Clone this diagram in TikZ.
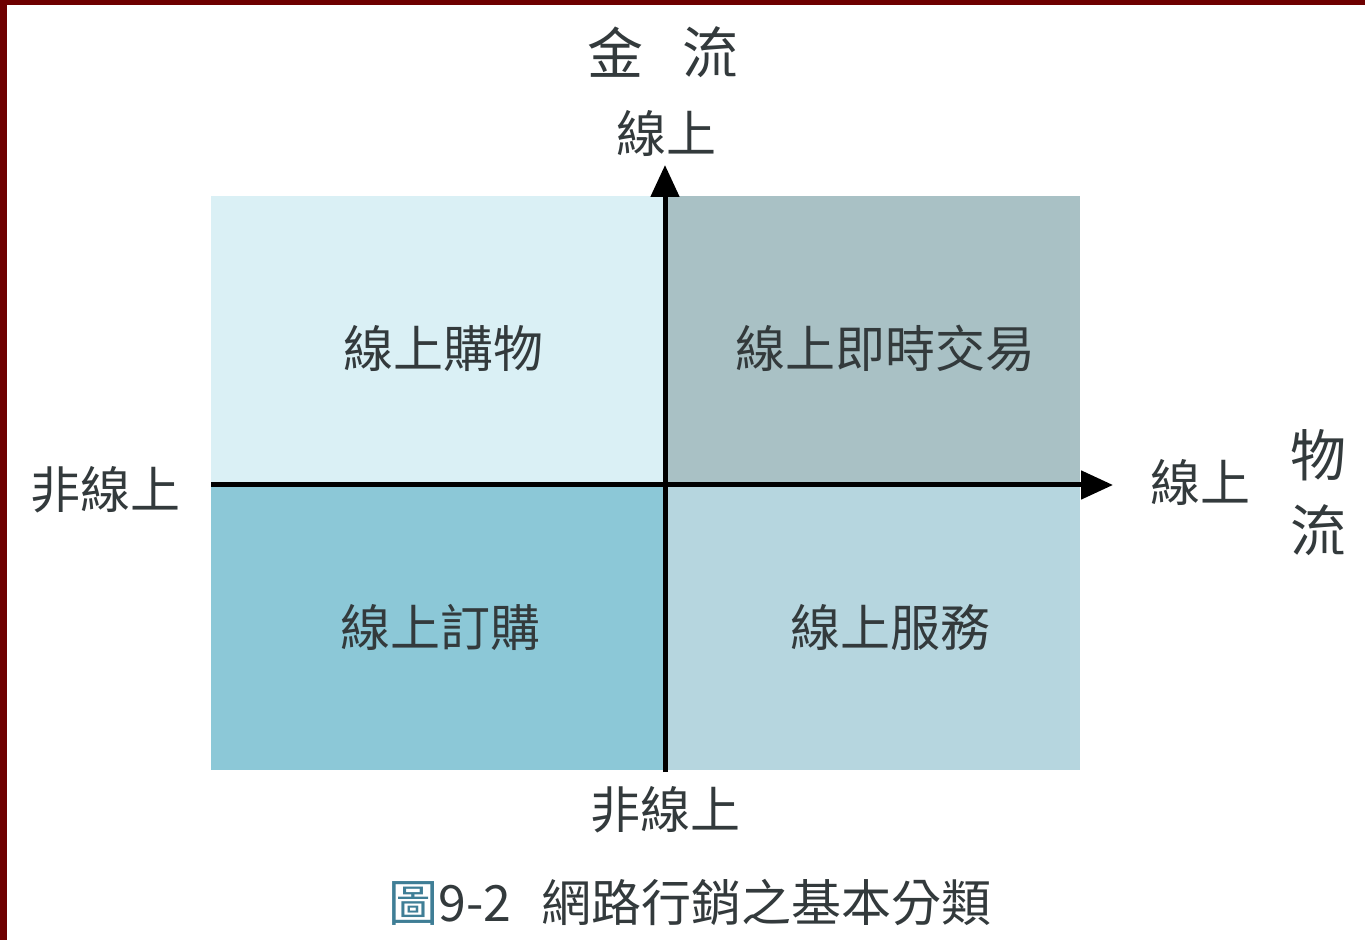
\documentclass[tikz,border=0pt]{standalone}
\usepackage{fontspec}
\setmainfont{Noto Sans CJK TC}
\usetikzlibrary{arrows.meta}
\definecolor{frame}{HTML}{6E0000}
\definecolor{qtl}{HTML}{DAF0F5}
\definecolor{qtr}{HTML}{A9C1C5}
\definecolor{qbl}{HTML}{8CC8D7}
\definecolor{qbr}{HTML}{B6D6DF}
\definecolor{txt}{HTML}{333A3C}
\begin{document}
\begin{tikzpicture}[x=0.5pt,y=-0.5pt,
  lbl/.style={font=\fontsize{25}{28}\selectfont, text=txt, inner sep=0pt},
  big/.style={font=\fontsize{28}{32}\selectfont, text=txt, inner sep=0pt},
  axis/.style={line width=2.5pt, -{Triangle[length=16pt,width=14pt]}}]
\useasboundingbox (0,0) rectangle (1365,940);
\fill[white] (0,0) rectangle (1365,940);
\fill[frame] (0,0) rectangle (1365,5);
\fill[frame] (0,0) rectangle (7,940);
% quadrants
\fill[qtl] (211,196) rectangle (665,485);
\fill[qtr] (665,196) rectangle (1080,485);
\fill[qbl] (211,485) rectangle (665,770);
\fill[qbr] (665,485) rectangle (1080,770);
\coordinate (vb) at (665,772);
\coordinate (vt) at (665,165);
\coordinate (hl) at (211,485);
\coordinate (hr) at (1113,485);
\draw[axis] (vb) -- (vt);
\draw[axis] (hl) -- (hr);
% quadrant labels
\node[lbl] (q1) at (443,348) {線上購物};
\node[lbl] (q2) at (885,348) {線上即時交易};
\node[lbl] (q3) at (440,627) {線上訂購};
\node[lbl] (q4) at (890,627) {線上服務};
% axis labels
\node[big] (jin) at (615,52) {金};
\node[big] (liu) at (710,52) {流};
\node[lbl] (top) at (666,133) {線上};
\node[lbl] (bot) at (665,810) {非線上};
\node[lbl] (left) at (105,490) {非線上};
\node[lbl] (right) at (1200,482) {線上};
\node[big] (wu) at (1318,455) {物};
\node[big] (liu2) at (1318,530) {流};
% caption
\node[lbl, anchor=west] (cap) at (388,902) {{\color[HTML]{3F7E96}圖}9-2\hspace{0.6em}網路行銷之基本分類};
\end{tikzpicture}
\end{document}
